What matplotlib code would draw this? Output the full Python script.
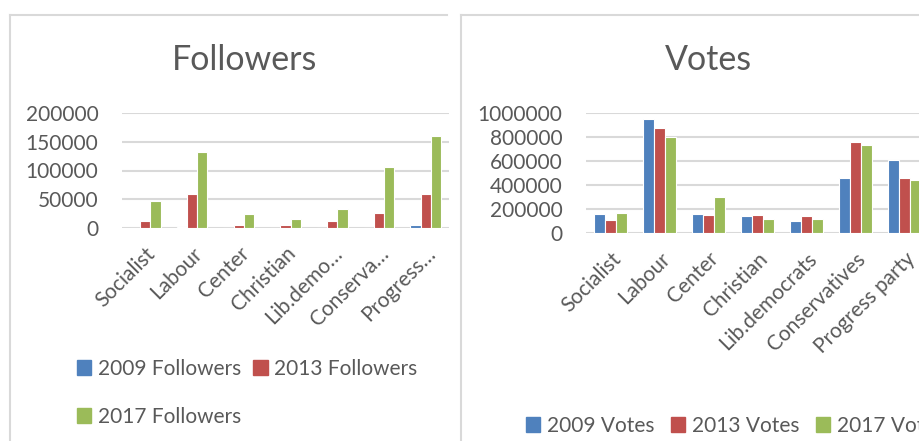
import numpy as np
from matplotlib import pyplot as plt
from matplotlib.lines import Line2D
from matplotlib.patches import Patch

plt.rcParams['font.family'] = ['Lato', 'DejaVu Sans']

# 数据
parties = ['Socialist', 'Labour', 'Center', 'Christian', 'Lib.democrats', 'Conservatives', 'Progress party']
parties_short = ['Socialist', 'Labour', 'Center', 'Christian', 'Lib.demo…', 'Conserva…', 'Progress…']

followers_2009 = [0, 1500, 0, 0, 0, 0, 5200]
followers_2013 = [12200, 58300, 5800, 5800, 11600, 26200, 59400]
followers_2017 = [47000, 131700, 25000, 15000, 33800, 105500, 160800]

votes_2009 = [163000, 945000, 160000, 144000, 99000, 461000, 610000]
votes_2013 = [113000, 870000, 152000, 152000, 144000, 757000, 461000]
votes_2017 = [171000, 796000, 298000, 119000, 122000, 732000, 442000]

colors = ['#4F81BD', '#C0504D', '#9BBB59']
grey = '#595959'
grid = '#D9D9D9'

W, H = 919, 441
fig = plt.figure(figsize=(W / 100, H / 100), dpi=100)


def px(x0, y0, x1, y1):
	# 像素坐标 -> figure 坐标 (left, bottom, width, height)
	return [x0 / W, 1 - y1 / H, (x1 - x0) / W, (y1 - y0) / H]


def bars(ax, series, labels, ymax, step, pad):
	x = np.arange(len(labels))
	for k, s in enumerate(series):
		ax.bar(x + (k - 1) * 0.22, s, width=0.22, color=colors[k],
			   edgecolor='white', linewidth=0.8, zorder=3)
	ax.set_xlim(-0.5, len(labels) - 0.5)
	ax.set_ylim(0, ymax)
	ax.set_yticks(np.arange(0, ymax + 1, step))
	ax.ticklabel_format(axis='y', style='plain', useOffset=False)
	ax.yaxis.grid(True, color=grid, linewidth=1.5, zorder=0)
	ax.set_xticks(x)
	ax.set_xticklabels(labels, rotation=45, ha='right', va='top',
					   rotation_mode='anchor', fontsize=15, color=grey)
	for sp in ax.spines.values():
		sp.set_visible(False)
	ax.tick_params(axis='both', length=0, labelsize=15, colors=grey)
	ax.tick_params(axis='y', pad=pad)
	ax.tick_params(axis='x', pad=11)
	ax.set_axisbelow(True)


# Followers
ax1 = fig.add_axes(px(122, 113, 449, 228))
bars(ax1, [followers_2009, followers_2013, followers_2017], parties_short, 200000, 50000, 17)
fig.text(245 / W, 1 - 60 / H, 'Followers', ha='center', va='center', fontsize=24.5, color=grey)

# Votes
ax2 = fig.add_axes(px(586, 112.7, 929, 233.3))
bars(ax2, [votes_2009, votes_2013, votes_2017], parties, 1000000, 200000, 17)
fig.text(708 / W, 1 - 60 / H, 'Votes', ha='center', va='center', fontsize=24.5, color=grey)

# 图例
h = [Patch(color=c) for c in colors]
fig.legend([h[0], h[2], h[1]], ['2009 Followers', '2017 Followers', '2013 Followers'],
		   ncol=2, loc='upper left', bbox_to_anchor=(58 / W, 1 - 340 / H),
		   frameon=False, fontsize=15, labelcolor=grey, handlelength=0.7,
		   handleheight=0.7, handletextpad=0.3, columnspacing=0.6, labelspacing=1.35)
fig.legend(h, ['2009 Votes', '2013 Votes', '2017 Votes'],
		   ncol=3, loc='upper left', bbox_to_anchor=(507 / W, 1 - 397 / H),
		   frameon=False, fontsize=15, labelcolor=grey, handlelength=0.7,
		   handleheight=0.7, handletextpad=0.3, columnspacing=0.8)

# 外框
for (xa, ya, xb, yb) in [(10, 15, 10, H), (10, 15, 447, 15), (461, 15, 461, H), (461, 15, W, 15)]:
	fig.add_artist(Line2D([xa / W, xb / W], [1 - ya / H, 1 - yb / H], color=grid, linewidth=1.5))

fig.savefig('out.png', dpi=100)
